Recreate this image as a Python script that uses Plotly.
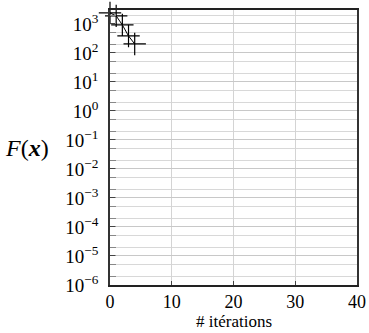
import plotly.graph_objects as go

iterations = [0, 1, 2, 3, 4]
f_values = [2390, 1890, 924, 385, 204]

x_ticks = [0, 10, 20, 30, 40]
y_exponents = [3, 2, 1, 0, -1, -2, -3, -4, -5, -6]
y_tickvals = [10.0 ** e for e in y_exponents]
y_ticktext = ["10<sup>%s</sup>" % (str(e).replace("-", "−")) for e in y_exponents]

FONT = "Liberation Serif, serif"

fig = go.Figure()
fig.add_trace(go.Scatter(
    x=iterations, y=f_values, mode="lines+markers",
    line=dict(color="black", width=1),
    marker=dict(symbol="cross-thin", size=16, line=dict(color="black", width=1.2)),
    cliponaxis=False, showlegend=False, hoverinfo="skip",
))

fig.update_layout(
    width=369, height=333,
    margin=dict(l=110, r=12, t=10, b=48, autoexpand=False),
    paper_bgcolor="white", plot_bgcolor="white",
    font=dict(family=FONT, size=19, color="black"),
    xaxis=dict(
        range=[0, 40], tickvals=x_ticks, ticks="inside", ticklen=4,
        showgrid=True, gridcolor="#d4d4d4", gridwidth=1,
        showline=True, linecolor="#222", linewidth=1.5, mirror=True,
        zeroline=False, tickfont=dict(size=18, family=FONT),
    ),
    yaxis=dict(
        type="log", range=[-6, 3.48],
        tickvals=y_tickvals, ticktext=y_ticktext,
        ticks="inside", ticklen=5, tickcolor="#444",
        showgrid=True, gridcolor="#c8c8c8", gridwidth=1,
        minor=dict(ticks="inside", ticklen=6, tickcolor="#888",
                   showgrid=True, gridcolor="#d8d8d8", gridwidth=1),
        showline=True, linecolor="#333", linewidth=1.5, mirror=True,
        zeroline=False, tickfont=dict(size=19, family=FONT), ticklabelstandoff=6,
    ),
)

fig.add_annotation(
    text="# itérations", xref="paper", yref="paper",
    x=0.5, y=0, yshift=-48, xanchor="center", yanchor="bottom", showarrow=False,
    font=dict(size=17, family=FONT),
)

fig.add_annotation(
    text="<i>F</i>(<b><i>x</i></b>)", xref="paper", yref="paper",
    x=-0.435, y=0.5, xanchor="left", yanchor="middle", showarrow=False,
    font=dict(size=24, family=FONT),
)

fig.write_html("out.html", config={"displayModeBar": False},
               post_script="document.body.style.margin='0';")
